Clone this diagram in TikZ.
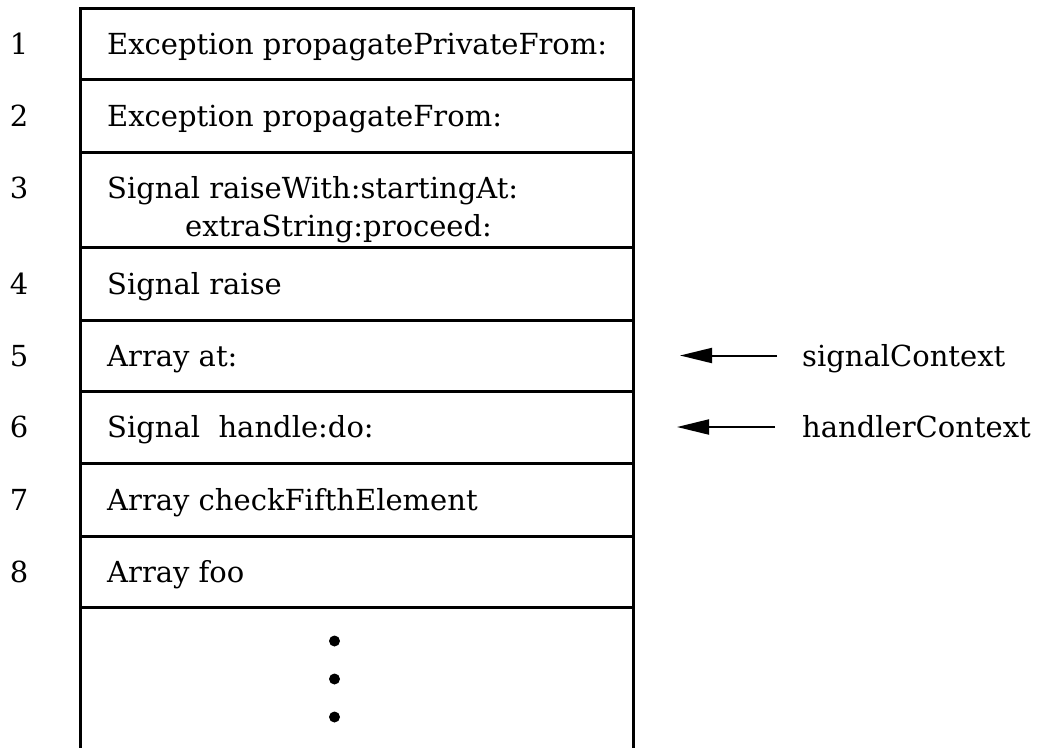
\documentclass[tikz,border=0pt]{standalone}
\usepackage{fontspec}
\setmainfont{DejaVu Serif}
\usetikzlibrary{arrows.meta}
\begin{document}
\begin{tikzpicture}[x=1pt, y=-1pt,
  framebox/.style={draw, line width=3pt, minimum width=553pt, inner sep=0pt, outer sep=0pt},
  wall/.style={line width=3pt},
  entry/.style={anchor=base west, inner sep=0pt, font=\fontsize{29}{34}\selectfont},
  num/.style={anchor=base, inner sep=0pt, font=\fontsize{29}{34}\selectfont},
  ptr/.style={line width=2pt, -{Triangle[length=32pt, width=15pt]}},
  dotmark/.style={circle, fill, inner sep=0pt, minimum size=11pt}]
\useasboundingbox (0,0) rectangle (1039,748);

% stack frames
\node[framebox, minimum height=71pt] (r1) at (356.5,43.5) {};
\node[framebox, minimum height=73pt] (r2) at (356.5,115.5) {};
\node[framebox, minimum height=95pt] (r3) at (356.5,199.5) {};
\node[framebox, minimum height=73pt] (r4) at (356.5,283.5) {};
\node[framebox, minimum height=71pt] (r5) at (356.5,355.5) {};
\node[framebox, minimum height=72pt] (r6) at (356.5,427) {};
\node[framebox, minimum height=73pt] (r7) at (356.5,499.5) {};
\node[framebox, minimum height=71pt] (r8) at (356.5,571.5) {};

% open continuation below the last frame
\coordinate (endL) at (80,748);
\coordinate (endR) at (633,748);
\draw[wall] (r8.south west) -- (endL);
\draw[wall] (r8.south east) -- (endR);

% frame numbers
\node[num] (n1) at (19,54) {1};
\node[num] (n2) at (19,126) {2};
\node[num] (n3) at (19,198.5) {3};
\node[num] (n4) at (19,294) {4};
\node[num] (n5) at (19,366) {5};
\node[num] (n6) at (19,437.5) {6};
\node[num] (n7) at (19,510) {7};
\node[num] (n8) at (19,582) {8};

% frame contents
\node[entry] (t1) at (107,54) {Exception propagatePrivateFrom:};
\node[entry] (t2) at (107,126) {Exception propagateFrom:};
\node[entry] (t3) at (107,198.5) {Signal raiseWith:startingAt:};
\node[entry] (t3b) at (185,236.5) {extraString:proceed:};
\node[entry] (t4) at (107,294) {Signal raise};
\node[entry] (t5) at (107,366) {Array at:};
\node[entry] (t6) at (107,437.5) {Signal\ \ handle:do:};
\node[entry] (t7) at (107,510) {Array checkFifthElement};
\node[entry] (t8) at (107,582) {Array foo};

% continuation dots
\node[dotmark] (d1) at (334.5,641) {};
\node[dotmark] (d2) at (334.5,679) {};
\node[dotmark] (d3) at (334.5,717) {};

% context pointers
\node[entry] (sig) at (802,366) {signalContext};
\node[entry] (hnd) at (802,437.5) {handlerContext};
\coordinate (sigTail) at (777,355.5);
\coordinate (sigTip) at (680,355.5);
\coordinate (hndTail) at (775,427);
\coordinate (hndTip) at (677,427);
\draw[ptr] (sigTail) -- (sigTip);
\draw[ptr] (hndTail) -- (hndTip);
\end{tikzpicture}
\end{document}
